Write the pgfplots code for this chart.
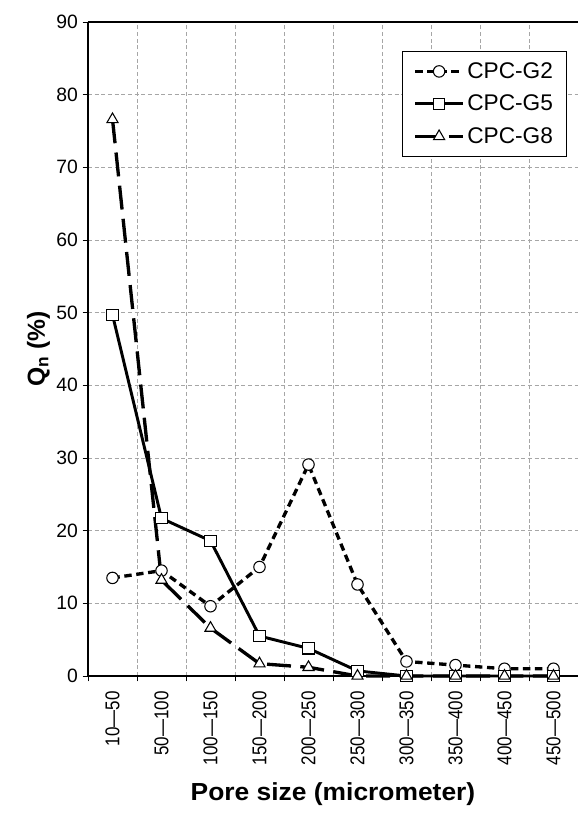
\documentclass[border=0pt]{standalone}
\usepackage{pgfplots}
\pgfplotsset{compat=1.18}
\usepackage{fontspec}
\setmainfont{Liberation Sans}
\newcommand{\xl}[1]{\scalebox{0.85}[1]{#1}}
\begin{document}
\begin{tikzpicture}
\begin{axis}[
  scale only axis,
  width=367.5pt, height=490.5pt,
  xmin=-0.5, xmax=9.5, ymin=0, ymax=90,
  axis lines*=left,
  axis line style={line width=1.6pt},
  xtick={0,...,9},
  xticklabels={\xl{10---50},\xl{50---100},\xl{100---150},\xl{150---200},\xl{200---250},\xl{250---300},\xl{300---350},\xl{350---400},\xl{400---450},\xl{450---500}},
  major x tick style={draw=none},
  minor xtick={-0.5,0.5,...,9.5},
  minor x tick style={line width=0.6pt, black},
  minor tick length=4pt,
  xminorgrids=true, ymajorgrids=true,
  grid style={densely dashed, gray!70, line width=0.5pt},
  ytick={0,10,...,90},
  major y tick style={line width=0.6pt, black},
  major tick length=4pt,
  tick align=outside,
  x tick label style={rotate=90, anchor=east, font=\fontsize{15}{17}\selectfont},
  y tick label style={font=\fontsize{14.5}{16}\selectfont},
  xticklabel shift=4pt,
  /pgf/number format/assume math mode=true,
  xlabel={\scalebox{1.07}[1]{\textbf{Pore size (micrometer)}}},
  ylabel={\textbf{Q\textsubscript{n} (\%)}},
  label style={font=\fontsize{18.5}{20}\selectfont},
  xlabel style={yshift=-6pt},
  ylabel style={yshift=-2pt},
  legend style={at={(0.977,0.955)}, anchor=north east, draw=black, line width=0.6pt,
    font=\fontsize{17}{19}\selectfont, row sep=7pt, inner xsep=8pt, inner ysep=6pt},
  legend cell align=left,
  legend image code/.code={\draw[mark repeat=2,mark phase=2,#1] plot coordinates {(0cm,0cm) (0.63cm,0cm) (1.26cm,0cm)};},
  clip=false,
]
\addplot[black, line width=2.5pt, dash pattern=on 5.5pt off 3.5pt,
  mark=*, mark size=4.3pt, mark options={solid, fill=white, line width=0.8pt}]
  coordinates {(0,13.5) (1,14.5) (2,9.6) (3,15.0) (4,29.1) (5,12.6) (6,2.0) (7,1.5) (8,1.0) (9,1.0)};
\addlegendentry{CPC-G2}
\addplot[black, line width=2.2pt,
  mark=square*, mark size=4.2pt, mark options={solid, fill=white, line width=0.8pt}]
  coordinates {(0,49.7) (1,21.7) (2,18.6) (3,5.5) (4,3.8) (5,0.7) (6,0) (7,0) (8,0) (9,0)};
\addlegendentry{CPC-G5}
\addplot[black, line width=2.5pt, dash pattern=on 18pt off 7pt,
  mark=triangle*, mark size=4.8pt, mark options={solid, fill=white, line width=0.8pt}]
  coordinates {(0,76.6) (1,13.2) (2,6.6) (3,1.7) (4,1.2) (5,0) (6,0) (7,0) (8,0) (9,0)};
\addlegendentry{CPC-G8}
\draw[line width=1.6pt] (rel axis cs:0,1) -- (rel axis cs:1,1);
\coordinate (ll) at (rel axis cs:0,0);
\coordinate (ur) at (rel axis cs:1,1);
\end{axis}
\pgfresetboundingbox
\path ([shift={(-66pt,-103.5pt)}]ll) rectangle ([shift={(0pt,16.5pt)}]ur);
\end{tikzpicture}
\end{document}
